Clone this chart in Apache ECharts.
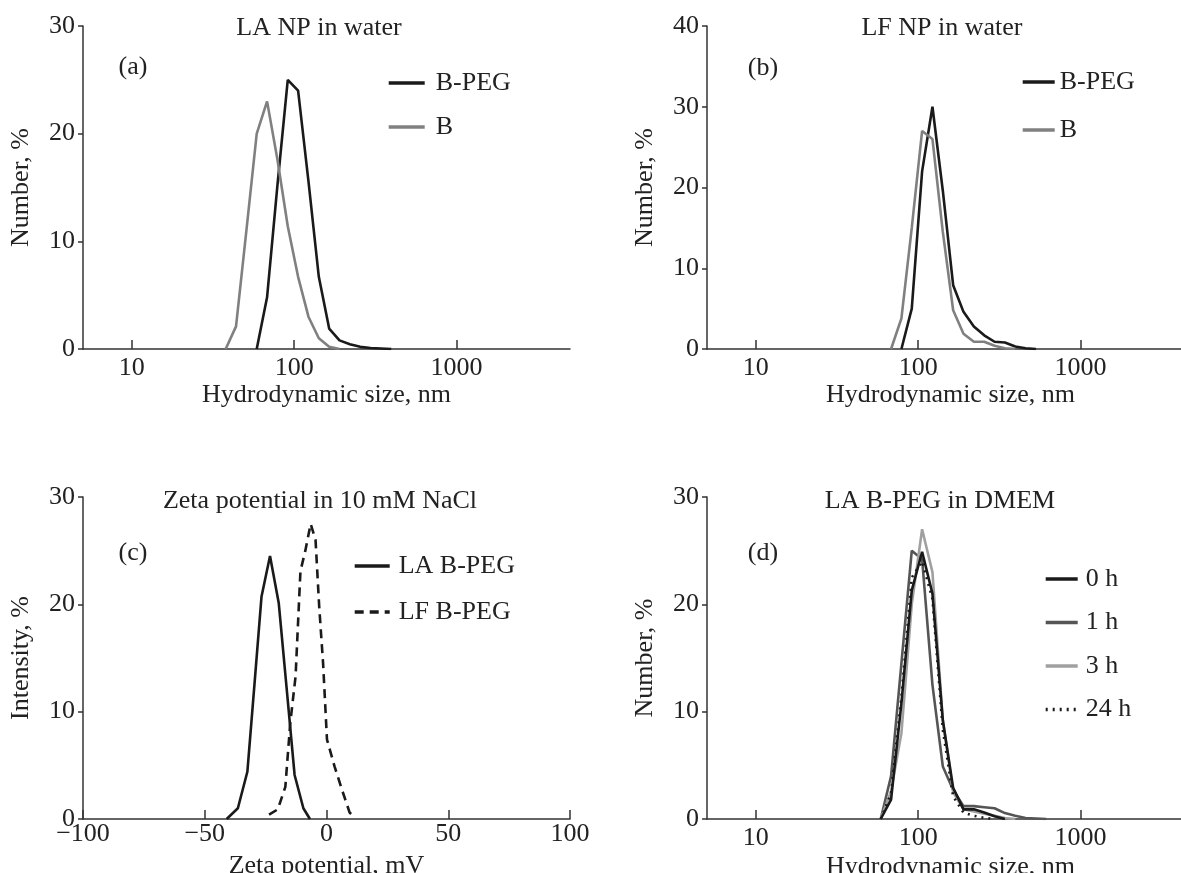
<!DOCTYPE html>
<html>
<head>
<meta charset="utf-8">
<script src="https://cdn.jsdelivr.net/npm/echarts@6/dist/echarts.min.js"></script>
<style>
  html, body { margin: 0; padding: 0; background: #fff; }
  #container { width: 1181px; height: 873px; }
</style>
</head>
<body>
<div id="container"></div>
<script>
var dom = document.getElementById("container");
var myChart = echarts.init(dom);

// (a) LA NP in water
var aSize = [37.84, 43.82, 50.75, 58.77, 68.06, 78.82, 91.28, 105.7, 122.4, 141.8, 164.2, 190.1, 220.2, 255.0, 295.3, 342.0, 396.1];
var aBPeg = [null, null, null, 0, 4.8, 15.2, 25, 24, 15.6, 6.7, 1.9, 0.8, 0.45, 0.2, 0.1, 0.05, 0];
var aB = [0, 2.1, 11, 20, 23, 17.6, 11.4, 6.7, 3, 1, 0.2, 0, null, null, null, null, null];

// (b) LF NP in water
var bSize = [68.06, 78.82, 91.28, 105.7, 122.4, 141.8, 164.2, 190.1, 220.2, 255.0, 295.3, 342.0, 396.1, 458.7, 531.2];
var bBPeg = [null, 0, 5, 22, 30, 19.6, 7.9, 4.6, 2.8, 1.7, 0.9, 0.8, 0.3, 0.1, 0];
var bB = [0, 3.8, 15, 27, 26, 14.5, 4.8, 1.9, 0.9, 0.9, 0.4, 0.1, 0, null, null];

// (c) Zeta potential
var cLAx = [-41, -36.4, -32.5, -29.6, -26.7, -23.2, -19.6, -16.3, -13.1, -9.5, -6.8];
var cLAy = [0, 1, 4.4, 12.5, 20.7, 24.5, 20.1, 12, 4.1, 1, 0];
var cLFx = [-23.6, -20.0, -16.9, -14.9, -12.7, -10.7, -8.7, -6.5, -4.5, -3.0, -1.4, 0.2, 3.3, 6.4, 9.5, 11.8];
var cLFy = [0.4, 0.9, 3, 8.9, 13.3, 23.1, 25, 27.5, 26, 19.8, 14.5, 7.4, 4.9, 2.7, 0.6, 0.1];

// (d) LA B-PEG in DMEM
var dSize = [58.77, 68.06, 78.82, 91.28, 105.7, 122.4, 141.8, 164.2, 190.1, 220.2, 255.0, 295.3, 342.0, 396.1, 458.7, 531.2, 615.1];
var d0h = [0, 1.8, 10.8, 21.3, 24.9, 21, 9.2, 2.9, 0.9, 0.9, 0.6, 0.25, 0, null, null, null, null];
var d1h = [0, 4, 14.5, 25, 24.2, 12.5, 4.9, 2.7, 1.2, 1.2, 1.1, 1.0, 0.55, 0.3, 0.1, 0.05, 0];
var d3h = [0, 2.6, 8, 20, 27, 23, 9.2, 2.5, 0.9, 0.7, 0.5, 0.3, 0.1, 0, null, null, null];
var d24h = [0, 2.4, 11.4, 22.5, 24, 20.5, 8.3, 2.1, 0.6, 0.3, 0.1, 0, null, null, null, null, null];

var sizeTicks = [10, 100, 1000];
var font = '"Liberation Serif", "Times New Roman", serif';
var fs = 26;
var ink = "#222";

function pairs(xs, ys) {
  return xs.map(function (x, i) {
    return ys[i] == null ? null : [x, ys[i]];
  }).filter(function (p) { return p; });
}

function logAxis(gi, name, gap) {
  return {
    type: "log",
    logBase: 10,
    gridIndex: gi,
    min: 5,
    max: 5000,
    name: name,
    nameLocation: "middle",
    nameGap: gap,
    nameTextStyle: { fontFamily: font, fontSize: fs, color: ink },
    axisLine: { lineStyle: { color: "#333", width: 1.5 } },
    axisTick: { inside: true, length: 9, customValues: sizeTicks, lineStyle: { color: "#333", width: 1.5 } },
    axisLabel: {
      customValues: sizeTicks, fontFamily: font, fontSize: fs, color: ink, margin: 6,
      formatter: function (v) { return String(Math.round(v)); }
    },
    minorTick: { show: false },
    splitLine: { show: false }
  };
}

function yAxis(gi, name, max) {
  return {
    type: "value",
    gridIndex: gi,
    min: 0,
    max: max,
    interval: 10,
    name: name,
    nameLocation: "middle",
    nameRotate: 90,
    nameGap: 49,
    nameTextStyle: { fontFamily: font, fontSize: fs, color: ink },
    axisLine: { show: true, onZero: false, lineStyle: { color: "#333", width: 1.5 } },
    axisTick: { show: true, length: 5, lineStyle: { color: "#333", width: 1.5 } },
    axisLabel: { fontFamily: font, fontSize: fs, color: ink, margin: 8 },
    splitLine: { show: false }
  };
}

function line(name, gi, data, color, type) {
  return {
    type: "line",
    name: name,
    xAxisIndex: gi,
    yAxisIndex: gi,
    data: data,
    symbol: "none",
    silent: true,
    animation: false,
    lineStyle: { color: color, width: 2.6, type: type || "solid" },
    itemStyle: { color: color }
  };
}

function legend(names, left, top, gap, w, pad) {
  return {
    data: names,
    orient: "vertical",
    left: left,
    top: top,
    itemWidth: w,
    itemHeight: 20,
    itemGap: gap,
    selectedMode: false,
    itemStyle: { opacity: 0 },
    lineStyle: { width: 3.4 },
    textStyle: { fontFamily: font, fontSize: fs, color: ink, padding: [0, 0, 0, pad] }
  };
}

function label(text, x, y) {
  return {
    type: "text",
    x: x,
    y: y,
    style: { text: text, font: fs + "px " + font, fill: ink, align: "center", verticalAlign: "middle" }
  };
}

function grid(left, top, height) {
  return { left: left, top: top, width: 487, height: height, outerBoundsMode: "none", containLabel: false };
}

var option = {
  backgroundColor: "#fff",
  animation: false,
  grid: [grid(83, 26, 323), grid(707, 26, 323), grid(83, 497, 322), grid(707, 497, 322)],
  xAxis: [
    logAxis(0, "Hydrodynamic size, nm", 30),
    logAxis(1, "Hydrodynamic size, nm", 30),
    {
      type: "value",
      gridIndex: 2,
      min: -100,
      max: 100,
      interval: 50,
      name: "Zeta potential, mV",
      nameLocation: "middle",
      nameGap: 34,
      nameTextStyle: { fontFamily: font, fontSize: fs, color: ink },
      axisLine: { lineStyle: { color: "#333", width: 1.5 } },
      axisTick: { inside: true, length: 9, lineStyle: { color: "#333", width: 1.5 } },
      axisLabel: {
        fontFamily: font, fontSize: fs, color: ink, margin: 2,
        formatter: function (v) { return v < 0 ? "\u2212" + (-v) : String(v); }
      },
      splitLine: { show: false }
    },
    logAxis(3, "Hydrodynamic size, nm", 35)
  ],
  yAxis: [
    yAxis(0, "Number, %", 30),
    yAxis(1, "Number, %", 40),
    yAxis(2, "Intensity, %", 30),
    yAxis(3, "Number, %", 30)
  ],
  legend: [
    legend(["B-PEG", "B"], 382, 65, 18, 36, 6),
    legend(["B-PEG", "B"], 1016, 64, 22, 32, 0),
    legend(["LA B-PEG", "LF B-PEG"], 348, 548, 20, 35, 4),
    legend(["0 h", "1 h", "3 h", "24 h"], 1039, 561, 17.5, 32, 3)
  ],
  graphic: [
    label("LA NP in water", 319, 28),
    label("LF NP in water", 942, 28),
    label("Zeta potential in 10 mM NaCl", 320, 501),
    label("LA B-PEG in DMEM", 940, 501),
    label("(a)", 133, 67),
    label("(b)", 763, 68),
    label("(c)", 133, 553),
    label("(d)", 763, 553)
  ],
  series: [
    line("B-PEG", 0, pairs(aSize, aBPeg), "#1a1a1a"),
    line("B", 0, pairs(aSize, aB), "#808080"),
    line("B-PEG", 1, pairs(bSize, bBPeg), "#1a1a1a"),
    line("B", 1, pairs(bSize, bB), "#808080"),
    line("LA B-PEG", 2, pairs(cLAx, cLAy), "#1a1a1a"),
    line("LF B-PEG", 2, pairs(cLFx, cLFy), "#1a1a1a", [9, 6]),
    line("1 h", 3, pairs(dSize, d1h), "#555555"),
    line("3 h", 3, pairs(dSize, d3h), "#a0a0a0"),
    line("0 h", 3, pairs(dSize, d0h), "#1a1a1a"),
    line("24 h", 3, pairs(dSize, d24h), "#1a1a1a", [2, 5])
  ]
};

myChart.setOption(option);
</script>
</body>
</html>
